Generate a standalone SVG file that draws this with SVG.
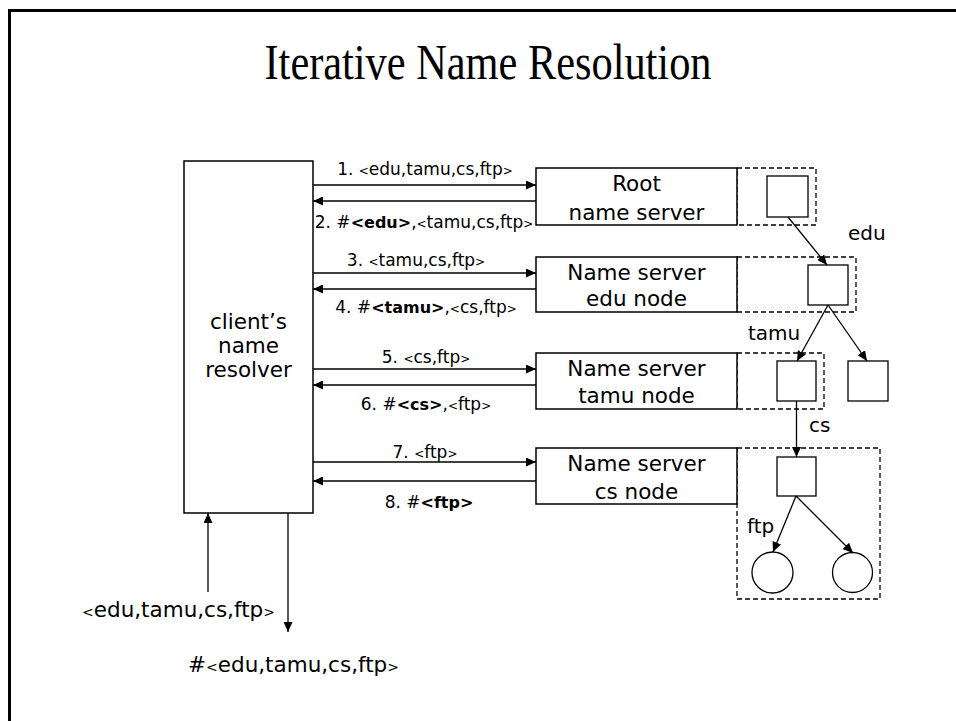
<svg xmlns="http://www.w3.org/2000/svg" width="956" height="721" viewBox="0 0 956 721">
  <style>
    .box { fill: #fff; stroke: #000; stroke-width: 1.5; }
    .zone { fill: none; stroke: #000; stroke-width: 1.3; stroke-dasharray: 5 3; }
    .sq { fill: #fff; stroke: #000; stroke-width: 1.3; }
    .edge { fill: none; stroke: #000; stroke-width: 1.3; marker-end: url(#ah); }
    text { font-family: "DejaVu Sans", "Liberation Sans", sans-serif; fill: #000; }
    .lbl { font-size: 21.5px; text-anchor: middle; }
    .tree { font-size: 20px; }
    .msg { font-size: 17px; text-anchor: middle; }
    .br { font-size: 12px; }
    .brb { font-size: 14px; }
    .b { font-weight: bold; font-size: 16px; }
    .title { font-family: "Liberation Serif", "Times New Roman", serif; font-size: 51px; text-anchor: middle; }
  </style>
  <defs>
    <marker id="ah" markerUnits="userSpaceOnUse" markerWidth="10" markerHeight="9" refX="10" refY="4.5" orient="auto">
      <path d="M0,0 L10,4.5 L0,9 z" fill="#000"/>
    </marker>
  </defs>

  <rect width="956" height="721" fill="#fff"/>
  <!-- slide frame -->
  <path d="M9.5 721 V10.5 H956" fill="none" stroke="#000" stroke-width="3"/>

  <text class="title" x="488" y="79" textLength="447" lengthAdjust="spacingAndGlyphs">Iterative Name Resolution</text>

  <!-- name space zones handled by each server -->
  <g id="zones">
    <rect class="zone" x="737" y="168" width="79" height="57"/>
    <rect class="zone" x="737" y="257" width="119" height="55"/>
    <rect class="zone" x="737" y="353" width="87" height="56"/>
    <rect class="zone" x="737" y="448" width="143" height="151"/>
  </g>

  <g id="resolver">
    <rect class="box" x="184" y="161" width="129" height="352"/>
    <text class="lbl" x="248.5" y="329">client’s</text>
    <text class="lbl" x="248.5" y="353">name</text>
    <text class="lbl" x="248.5" y="377">resolver</text>
  </g>

  <g id="root-server">
    <rect class="box" x="536" y="168" width="201" height="57"/>
    <text class="lbl" x="636.5" y="191">Root</text>
    <text class="lbl" x="636.5" y="220">name server</text>
  </g>
  <g id="edu-server">
    <rect class="box" x="536" y="257" width="201" height="55"/>
    <text class="lbl" x="636.5" y="280">Name server</text>
    <text class="lbl" x="636.5" y="306">edu node</text>
  </g>
  <g id="tamu-server">
    <rect class="box" x="536" y="353" width="201" height="56"/>
    <text class="lbl" x="636.5" y="376">Name server</text>
    <text class="lbl" x="636.5" y="403">tamu node</text>
  </g>
  <g id="cs-server">
    <rect class="box" x="536" y="448" width="201" height="56"/>
    <text class="lbl" x="636.5" y="471">Name server</text>
    <text class="lbl" x="636.5" y="499">cs node</text>
  </g>

  <!-- name space tree -->
  <g id="tree-root"><rect class="sq" x="767" y="176" width="41" height="41"/></g>
  <g id="tree-edu"><rect class="sq" x="808" y="265" width="40" height="40"/></g>
  <g id="tree-tamu"><rect class="sq" x="777" y="361" width="39" height="40"/></g>
  <g id="tree-other"><rect class="sq" x="848" y="361" width="40" height="40"/></g>
  <g id="tree-cs"><rect class="sq" x="777" y="457" width="39" height="39"/></g>
  <g id="tree-ftp"><circle class="sq" cx="772.5" cy="572.5" r="20.5"/></g>
  <g id="tree-leaf"><circle class="sq" cx="852.5" cy="572.5" r="20"/></g>

  <g id="connectors">
    <!-- queries and replies -->
    <path class="edge" d="M313 185 H536"/>
    <path class="edge" d="M536 201 H313"/>
    <path class="edge" d="M313 273 H536"/>
    <path class="edge" d="M536 289 H313"/>
    <path class="edge" d="M313 369 H536"/>
    <path class="edge" d="M536 385 H313"/>
    <path class="edge" d="M313 462 H536"/>
    <path class="edge" d="M536 481 H313"/>
    <!-- tree edges -->
    <path class="edge" d="M788 217 L827 265"/>
    <path class="edge" d="M828 305 L797 361"/>
    <path class="edge" d="M828 305 L867 361"/>
    <path class="edge" d="M796.5 401 V457"/>
    <path class="edge" d="M796 496 L773 552"/>
    <path class="edge" d="M796 496 L853 553"/>
    <!-- request in, answer out -->
    <path class="edge" d="M208 592 V513"/>
    <path class="edge" d="M288 513 V632"/>
  </g>

  <g id="messages">
    <text class="msg" x="425" y="175">1. <tspan class="br">&lt;</tspan>edu,tamu,cs,ftp<tspan class="br">&gt;</tspan></text>
    <text class="msg" x="424" y="228">2. #<tspan class="b">&lt;edu&gt;</tspan>,<tspan class="br">&lt;</tspan>tamu,cs,ftp<tspan class="br">&gt;</tspan></text>
    <text class="msg" x="416" y="266">3. <tspan class="br">&lt;</tspan>tamu,cs,ftp<tspan class="br">&gt;</tspan></text>
    <text class="msg" x="426" y="313">4. #<tspan class="b">&lt;tamu&gt;</tspan>,<tspan class="br">&lt;</tspan>cs,ftp<tspan class="br">&gt;</tspan></text>
    <text class="msg" x="426" y="363">5. <tspan class="br">&lt;</tspan>cs,ftp<tspan class="br">&gt;</tspan></text>
    <text class="msg" x="426" y="410">6. #<tspan class="b">&lt;cs&gt;</tspan>,<tspan class="br">&lt;</tspan>ftp<tspan class="br">&gt;</tspan></text>
    <text class="msg" x="425" y="458">7. <tspan class="br">&lt;</tspan>ftp<tspan class="br">&gt;</tspan></text>
    <text class="msg" x="429" y="508">8. #<tspan class="b">&lt;ftp&gt;</tspan></text>
  </g>

  <g id="tree-labels">
    <text class="tree" x="848" y="240">edu</text>
    <text class="tree" x="748" y="340">tamu</text>
    <text class="tree" x="809" y="432">cs</text>
    <text class="tree" x="747" y="533">ftp</text>
  </g>

  <g id="io-labels">
    <text class="lbl" x="178.5" y="617"><tspan class="brb">&lt;</tspan>edu,tamu,cs,ftp<tspan class="brb">&gt;</tspan></text>
    <text class="lbl" x="293.5" y="672">#<tspan class="brb">&lt;</tspan>edu,tamu,cs,ftp<tspan class="brb">&gt;</tspan></text>
  </g>
</svg>
